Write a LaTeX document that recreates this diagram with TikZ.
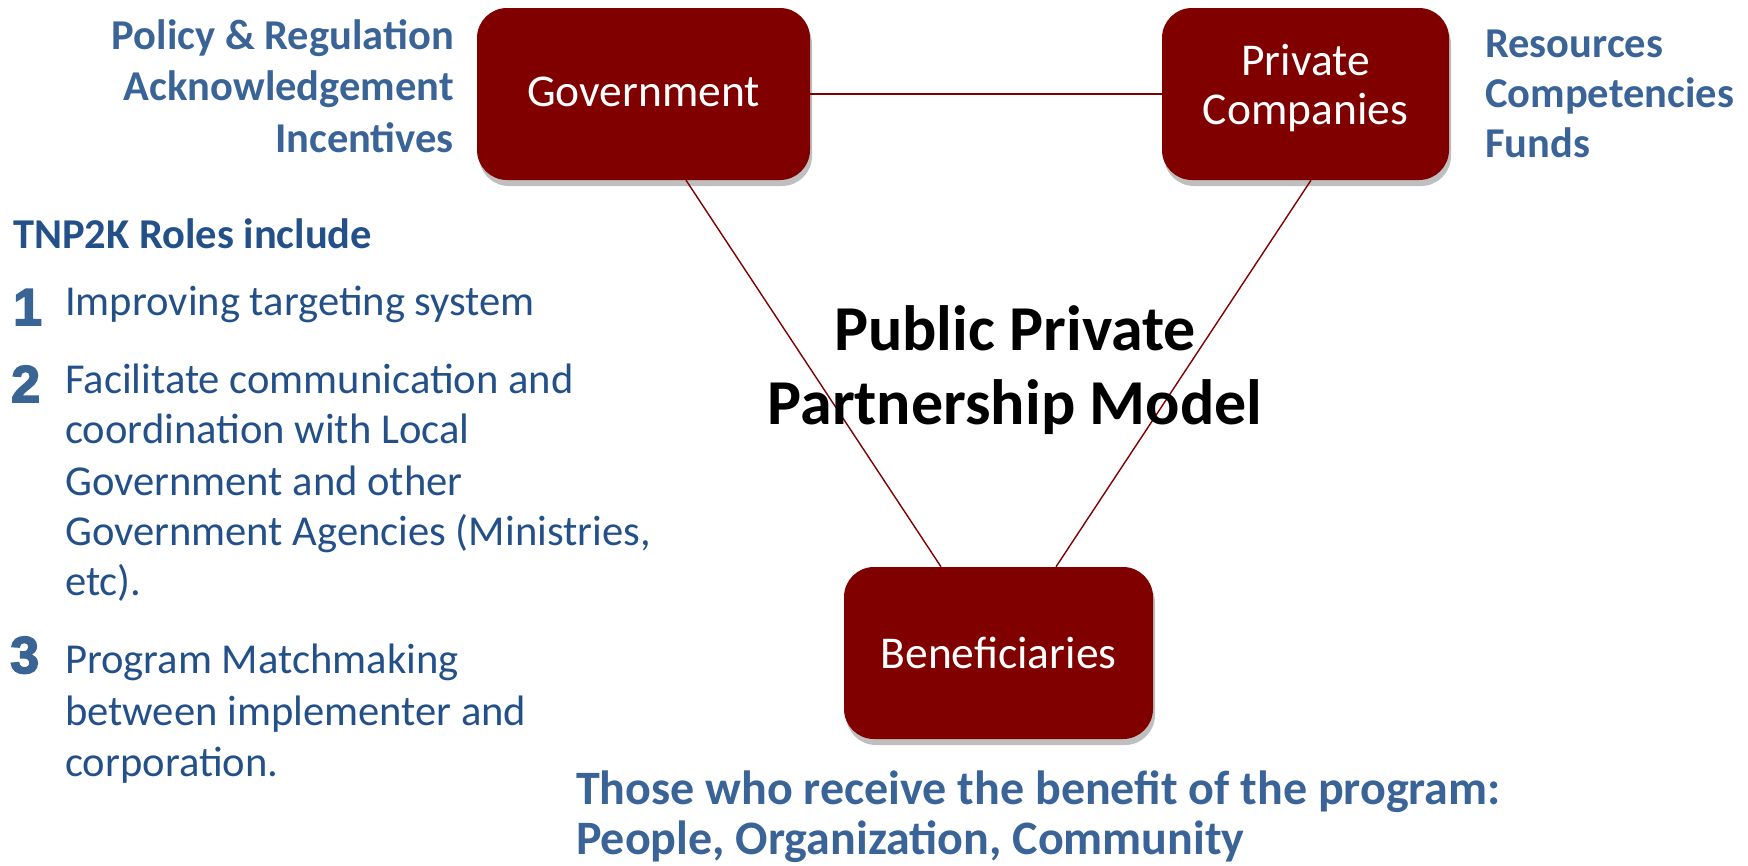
\documentclass[tikz,border=0pt]{standalone}
\usepackage{fontspec}
\setmainfont{Carlito}
\newfontfamily\numfont[BoldFeatures={FakeBold=3}]{Liberation Sans}
\usetikzlibrary{shadows}
\definecolor{boxred}{HTML}{800000}
\definecolor{lblue}{HTML}{3A6497}
\definecolor{dblue}{HTML}{24508A}
\definecolor{nblue}{HTML}{3A6494}
\begin{document}
\begin{tikzpicture}[x=1pt,y=-1pt,
  pbox/.style={fill=boxred, rounded corners=30pt, inner sep=0pt,
    drop shadow={shadow xshift=2pt, shadow yshift=-6pt, opacity=0.25, fill=black}},
  boxtxt/.style={text=white, align=center, font=\fontsize{45.5}{49}\selectfont, inner sep=0pt},
  conn/.style={draw=boxred, line width=1.4pt},
  lab/.style={text=lblue, font=\bfseries\fontsize{42.5}{48}\selectfont, inner sep=0pt},
  itemtxt/.style={text=dblue, font=\fontsize{42.6}{50}\selectfont, inner sep=0pt, anchor=base west},
  numtxt/.style={text=nblue, font=\numfont\bfseries\fontsize{52}{52}\selectfont, inner sep=0pt, anchor=base west},
  titletxt/.style={text=black, font=\bfseries\fontsize{64}{72}\selectfont, inner sep=0pt, anchor=base},
  bottxt/.style={text=lblue, font=\bfseries\fontsize{48}{54}\selectfont, inner sep=0pt, anchor=base west},
]
\useasboundingbox (0,0) rectangle (1748,865);

% boxes
\node[pbox, minimum width=333pt, minimum height=172pt] (gov) at (643.5,94) {};
\node[boxtxt] (govtxt) at (643.5,92) {Government};
\node[pbox, minimum width=287pt, minimum height=172pt] (priv) at (1305.5,94) {};
\node[boxtxt] (privtxt) at (1305.5,88) {Private\\Companies};
\node[pbox, minimum width=309pt, minimum height=172pt] (ben) at (998.5,653) {};
\node[boxtxt] (bentxt) at (998.5,653) {Beneficiaries};

% connectors
\draw[conn] (gov.east) -- (priv.west);
\draw[conn] ([xshift=42.5pt]gov.south) -- ([xshift=-57.5pt]ben.north);
\draw[conn] ([xshift=5.5pt]priv.south) -- ([xshift=57.5pt]ben.north);

% government labels
\node[lab, anchor=base east] (g1) at (454,49) {Policy \& Regulation};
\node[lab, anchor=base east] (g2) at (454,100) {Acknowledgement};
\node[lab, anchor=base east] (g3) at (454,152) {Incentives};

% private labels
\node[lab, anchor=base west] (p1) at (1485,57) {Resources};
\node[lab, anchor=base west] (p2) at (1485,107) {Competencies};
\node[lab, anchor=base west] (p3) at (1485,157) {Funds};

% roles
\node[itemtxt, font=\bfseries\fontsize{42.5}{48}\selectfont] (roles) at (13,248) {TNP2K Roles include};
\node[numtxt] (n1) at (13,325) {1};
\node[itemtxt] (i1) at (65,315) {Improving targeting system};
\node[numtxt] (n2) at (11,402) {2};
\node[itemtxt] (i2a) at (65,393) {Facilitate communication and};
\node[itemtxt] (i2b) at (65,443) {coordination with Local};
\node[itemtxt] (i2c) at (65,495) {Government and other};
\node[itemtxt] (i2d) at (65,545) {Government Agencies (Ministries,};
\node[itemtxt] (i2e) at (65,595) {etc).};
\node[numtxt] (n3) at (10,673) {3};
\node[itemtxt] (i3a) at (65,673) {Program Matchmaking};
\node[itemtxt] (i3b) at (65,725) {between implementer and};
\node[itemtxt] (i3c) at (65,776) {corporation.};

% title
\node[titletxt] (t1) at (1015,350) {Public Private};
\node[titletxt] (t2) at (1015,424) {Partnership Model};

% beneficiaries description
\node[bottxt] (b1) at (576,804) {Those who receive the benefit of the program:};
\node[bottxt] (b2) at (576,854) {People, Organization, Community};
\end{tikzpicture}
\end{document}
